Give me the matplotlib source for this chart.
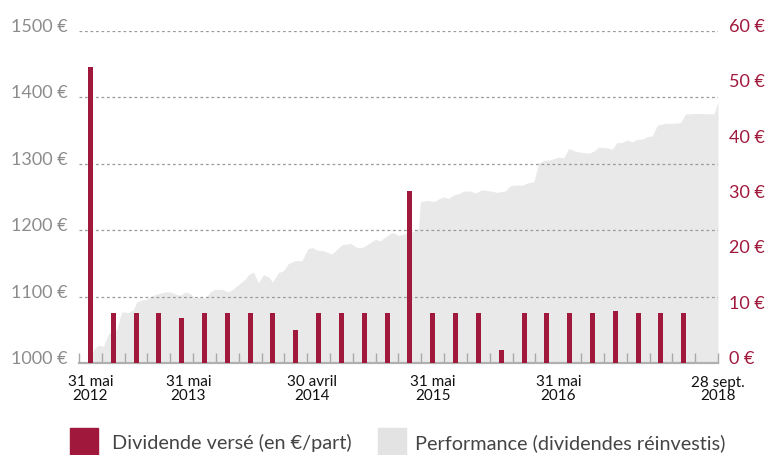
import numpy as np
import matplotlib.pyplot as plt
import matplotlib.transforms as mtransforms
from matplotlib.patches import Rectangle

plt.rcParams['font.family'] = ['Lato', 'DejaVu Sans']

CRIMSON = '#a0183b'
AREA = '#e9e9e9'

# dividende verse par trimestre (en euros/part), trimestre 0 = mai 2012
dividendes = [53.5, 9.0, 9.0, 9.0, 8.1, 9.0, 9.0, 9.0, 9.0, 6.0,
              9.0, 9.0, 9.0, 9.0, 31.1, 9.0, 9.0, 9.0, 2.4, 9.0,
              9.0, 9.0, 9.0, 9.4, 9.0, 9.0, 9.0]
n_trimestres = 28

# performance (dividendes reinvestis), base 1000 euros
perf_t = [0.0, 0.13, 0.35, 0.57, 0.79, 0.93, 1.15, 1.37, 1.66, 1.88,
          2.03, 2.25, 2.47, 2.76, 3.05, 3.27, 3.49, 3.71, 3.93, 4.15,
          4.37, 4.59, 4.81, 5.03, 5.25, 5.46, 5.76, 6.05, 6.27, 6.56,
          6.78, 6.93, 7.14, 7.36, 7.58, 7.80, 7.98, 8.24, 8.46, 8.68,
          8.97, 9.27, 9.53, 9.71, 9.93, 10.21, 10.58, 11.02, 11.39, 11.68,
          11.90, 12.12, 12.48, 12.70, 13.14, 13.29, 13.50, 13.80, 14.15, 14.38,
          14.46, 14.61, 14.82, 15.04, 15.26, 15.48, 15.70, 15.92, 16.21, 16.35,
          16.65, 16.87, 17.16, 17.52, 17.82, 18.18, 18.40, 18.70, 18.92, 19.14,
          19.43, 19.64, 19.86, 20.16, 20.52, 20.74, 20.96, 21.25, 21.55, 21.84,
          22.06, 22.28, 22.65, 22.86, 23.08, 23.30, 23.52, 23.74, 23.96, 24.18,
          24.40, 24.62, 24.84, 25.20, 25.50, 25.86, 26.08, 26.66, 27.32, 27.5]
perf_val = [1000, 1020, 1027, 1025, 1044, 1047, 1050, 1077, 1076, 1080,
            1092, 1095, 1096, 1102, 1105, 1107, 1107, 1104, 1102, 1107,
            1105, 1097, 1100, 1097, 1107, 1111, 1111, 1107, 1112, 1120,
            1126, 1133, 1137, 1121, 1133, 1130, 1122, 1136, 1139, 1150,
            1154, 1154, 1172, 1174, 1170, 1169, 1164, 1178, 1180, 1174,
            1174, 1178, 1186, 1184, 1195, 1196, 1192, 1195, 1198, 1203,
            1243, 1244, 1245, 1243, 1247, 1250, 1248, 1253, 1256, 1259,
            1259, 1256, 1261, 1259, 1257, 1259, 1267, 1268, 1268, 1271,
            1273, 1301, 1305, 1306, 1310, 1309, 1323, 1319, 1317, 1316,
            1319, 1325, 1324, 1322, 1332, 1332, 1336, 1333, 1337, 1337,
            1341, 1342, 1358, 1361, 1361, 1362, 1375, 1376, 1375, 1393]

date_pos = [0.0, 4.3, 9.7, 15.0, 20.5, 27.49]
date_labels = ['31 mai\n2012', '31 mai\n2013', '30 avril\n2014',
               '31 mai\n2015', '31 mai\n2016', '28 sept.\n2018']

left_ticks = [1000, 1100, 1200, 1300, 1400, 1500]
right_ticks = [0, 10, 20, 30, 40, 50, 60]

fig = plt.figure(figsize=(7.68, 4.55), dpi=100)
ax = fig.add_axes([79 / 768, 1 - 363 / 455, 639 / 768, 332 / 455])

ax.fill_between(perf_t, perf_val, 1000, color=AREA, linewidth=0)
ax.set_xlim(-0.5, n_trimestres - 0.5)
ax.set_ylim(1000, 1500)
ax.set_yticks(left_ticks)
ax.set_yticklabels([f'{v} €' for v in left_ticks])
ax.yaxis.grid(True, color='#9a9a9a', linestyle=(0, (2.2, 2.2)), linewidth=0.9)
ax.tick_params(axis='y', length=0, pad=8, labelcolor='#8c8c8c', labelsize=13)

ax.set_xticks(date_pos)
ax.set_xticklabels(date_labels, linespacing=0.95)
ax.set_xticks(np.arange(-0.5, n_trimestres), minor=True)
ax.tick_params(axis='x', which='major', length=0, pad=9, labelsize=11, labelcolor='#111111')
ax.tick_params(axis='x', which='minor', direction='in', length=7, width=1, color='#a8a8a8')

for s in ['top', 'left', 'right']:
    ax.spines[s].set_visible(False)
ax.spines['bottom'].set_color('#b0b0b0')
ax.spines['bottom'].set_linewidth(1.6)

ax2 = ax.twinx()
ax2.bar(np.arange(len(dividendes)), dividendes, width=0.22, color=CRIMSON, zorder=3)
ax2.set_ylim(0, 60)
ax2.set_yticks(right_ticks)
ax2.set_yticklabels([f'{v} €' for v in right_ticks])
ax2.tick_params(axis='y', length=0, pad=8, labelcolor=CRIMSON, labelsize=13)
for s in ['top', 'left', 'right', 'bottom']:
    ax2.spines[s].set_visible(False)

# libelles des axes y un peu au-dessus des lignes
shift = mtransforms.ScaledTranslation(0, 0.055, fig.dpi_scale_trans)
for t in ax.yaxis.get_major_ticks() + ax2.yaxis.get_major_ticks():
    t.label1.set_transform(t.label1.get_transform() + shift)
    t.label2.set_transform(t.label2.get_transform() + shift)

# legende
fig.add_artist(Rectangle((70 / 768, 0), 28 / 768, 27 / 455,
                         transform=fig.transFigure, color=CRIMSON))
fig.text(112 / 768, 12 / 455, 'Dividende versé (en €/part)', fontsize=14.3,
         color='#444444', va='center')
fig.add_artist(Rectangle((378 / 768, 0), 28 / 768, 27 / 455,
                         transform=fig.transFigure, color='#e3e3e3'))
fig.text(415 / 768, 12 / 455, 'Performance (dividendes réinvestis)', fontsize=14.3,
         color='#444444', va='center')

fig.savefig('out.png', dpi=100)
